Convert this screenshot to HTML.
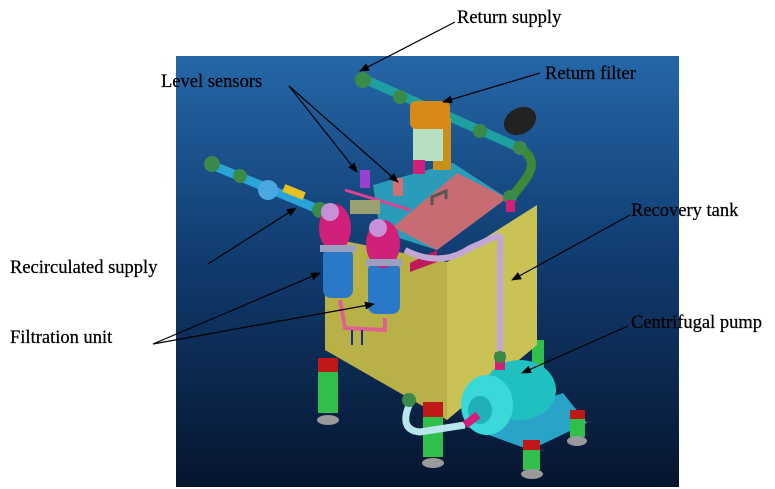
<!DOCTYPE html>
<html><head><meta charset="utf-8"><style>
html,body{margin:0;padding:0;background:#fff;width:775px;height:489px;overflow:hidden}
svg{display:block}
text{font-family:"Liberation Serif",serif;font-size:18.5px;fill:#000;stroke:#000;stroke-width:0.25}
</style></head><body>
<svg width="775" height="489" viewBox="0 0 775 489" xmlns="http://www.w3.org/2000/svg">
<defs>
<linearGradient id="bg" x1="0" y1="0" x2="0" y2="1">
<stop offset="0" stop-color="#2567a8"/><stop offset="0.45" stop-color="#113d72"/><stop offset="1" stop-color="#06152e"/>
</linearGradient>
<marker id="ah" markerWidth="10" markerHeight="8" refX="9" refY="4" orient="auto" markerUnits="userSpaceOnUse">
<path d="M0,0 L10,4 L0,8 z" fill="#000"/></marker>
</defs>
<rect x="176" y="56" width="503" height="431" fill="url(#bg)"/>
<rect x="532" y="340" width="12" height="30" fill="#2fbf4a"/>
<polygon points="325,237 447,262 447,420 325,350" fill="#b8b148"/>
<polygon points="447,262 537,205 537,345 447,420" fill="#c9c255"/>
<polygon points="373,185 453,163 507,198 437,250 380,232" fill="#2a9bb8"/>
<polygon points="393,227 457,173 507,198 437,250" fill="#c86c74"/>
<path d="M432,205 l0,-8 l14,-6 l0,8" stroke="#555" stroke-width="3" fill="none"/>
<polygon points="410,263 437,250 437,262 410,272" fill="#c0185a"/>
<path d="M405,250 Q440,268 470,248 L497,236 Q502,234 500,250 L500,355" stroke="#c2a6d8" stroke-width="6" fill="none"/>
<path d="M207,163 L337,217" stroke="#2aa3d8" stroke-width="9" fill="none"/>
<rect x="283" y="188" width="22" height="8" fill="#e8c020" transform="rotate(22 294 192)"/>
<circle cx="212" cy="164" r="8" fill="#3a8a4a"/><circle cx="240" cy="176" r="7" fill="#3a8a4a"/>
<circle cx="268" cy="190" r="10" fill="#4aa8e0"/>
<circle cx="320" cy="210" r="8" fill="#3a8a4a"/>
<rect x="323" y="248" width="30" height="50" rx="8" fill="#2a78c8"/>
<rect x="368" y="262" width="32" height="52" rx="8" fill="#2a78c8"/>
<ellipse cx="335" cy="228" rx="16" ry="24" fill="#d0207a"/>
<ellipse cx="383" cy="244" rx="17" ry="24" fill="#d0207a"/>
<rect x="320" y="245" width="36" height="7" fill="#9aa0c0"/>
<rect x="366" y="259" width="36" height="7" fill="#9aa0c0"/>
<circle cx="330" cy="212" r="9" fill="#c890d8"/><circle cx="378" cy="228" r="9" fill="#c890d8"/>
<path d="M340,300 L345,328 L385,330 L385,318" stroke="#e06090" stroke-width="4" fill="none"/>
<path d="M352,330 v15 M362,330 v15" stroke="#1a2a90" stroke-width="2"/>
<rect x="360" y="170" width="10" height="18" fill="#9a40d0"/>
<rect x="393" y="178" width="10" height="18" fill="#d07070"/>
<path d="M345,190 L410,210" stroke="#e04090" stroke-width="3"/>
<rect x="350" y="200" width="30" height="14" fill="#9aa070"/>
<path d="M362,78 L520,148" stroke="#1fa0a0" stroke-width="9" fill="none"/>
<path d="M520,148 Q540,160 525,180 L512,197" stroke="#3a8a3a" stroke-width="9" fill="none"/>
<circle cx="363" cy="80" r="8" fill="#3a8a4a"/><circle cx="400" cy="97" r="7" fill="#3a8a4a"/>
<circle cx="480" cy="131" r="7" fill="#3a8a4a"/><circle cx="520" cy="148" r="7" fill="#3a8a4a"/>
<circle cx="510" cy="197" r="7" fill="#3a8a4a"/><rect x="506" y="200" width="9" height="12" fill="#d0207a"/>
<rect x="433" y="118" width="18" height="52" fill="#c8901a"/>
<rect x="413" y="128" width="30" height="33" fill="#b8e0c0"/>
<rect x="410" y="101" width="40" height="28" rx="6" fill="#d88a18"/>
<ellipse cx="520" cy="121" rx="17" ry="13" fill="#222" transform="rotate(-30 520 121)"/>
<rect x="413" y="160" width="12" height="14" fill="#d0207a"/>
<rect x="318" y="360" width="20" height="53" fill="#2fbf4a"/><rect x="318" y="358" width="20" height="14" fill="#c01818"/>
<ellipse cx="328" cy="420" rx="11" ry="5" fill="#9a9a9a"/>
<rect x="423" y="403" width="20" height="54" fill="#2fbf4a"/><rect x="423" y="402" width="20" height="15" fill="#c01818"/>
<ellipse cx="433" cy="463" rx="11" ry="5" fill="#9a9a9a"/>
<polygon points="467,427 563,393 587,423 530,450" fill="#2aa3c8"/>
<rect x="523" y="440" width="17" height="30" fill="#2fbf4a"/><rect x="523" y="440" width="17" height="10" fill="#c01818"/>
<ellipse cx="532" cy="474" rx="11" ry="5" fill="#9a9a9a"/>
<rect x="570" y="410" width="15" height="27" fill="#2fbf4a"/><rect x="570" y="410" width="15" height="9" fill="#c01818"/>
<ellipse cx="577" cy="441" rx="10" ry="5" fill="#9a9a9a"/>
<ellipse cx="520" cy="390" rx="36" ry="30" fill="#20c0c0"/>
<ellipse cx="487" cy="405" rx="26" ry="30" fill="#3ad8d8"/>
<ellipse cx="480" cy="410" rx="12" ry="14" fill="#20b0b8"/>
<rect x="495" y="352" width="10" height="18" fill="#d0207a"/>
<circle cx="500" cy="357" r="6" fill="#3a8a4a"/>
<path d="M410,403 Q398,430 420,432 L465,425" stroke="#b8e6ea" stroke-width="7" fill="none"/>
<circle cx="409" cy="400" r="7" fill="#3a8a4a"/>
<path d="M465,425 L478,415" stroke="#d0207a" stroke-width="8"/>
<text x="457" y="23">Return supply</text>
<text x="545" y="79">Return filter</text>
<text x="161" y="87">Level sensors</text>
<text x="631" y="216">Recovery tank</text>
<text x="10" y="273">Recirculated supply</text>
<text x="10" y="343">Filtration unit</text>
<text x="631" y="328">Centrifugal pump</text>
<g stroke="#000" stroke-width="1.2" fill="none" marker-end="url(#ah)">
<line x1="455" y1="22" x2="360" y2="71"/>
<line x1="540" y1="73" x2="443" y2="102"/>
<line x1="289" y1="86" x2="357" y2="172"/>
<line x1="289" y1="86" x2="398" y2="182"/>
<line x1="208" y1="264" x2="296" y2="208"/>
<line x1="153" y1="344" x2="320" y2="273"/>
<line x1="153" y1="344" x2="374" y2="304"/>
<line x1="630" y1="215" x2="512" y2="280"/>
<line x1="628" y1="326" x2="522" y2="373"/>
</g>
</svg>
</body></html>
